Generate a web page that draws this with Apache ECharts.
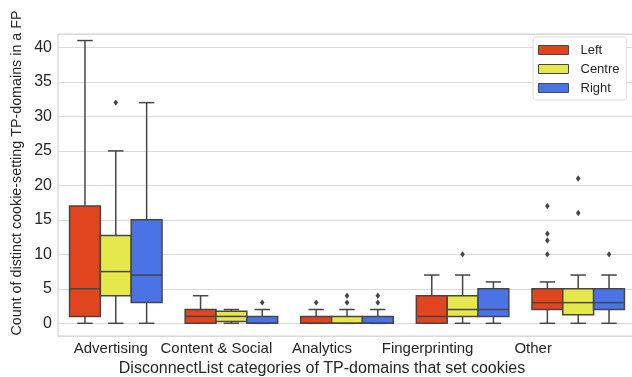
<!DOCTYPE html>
<html>
<head>
<meta charset="utf-8">
<script src="https://cdn.jsdelivr.net/npm/echarts@6/dist/echarts.min.js"></script>
<style>
  html, body { margin: 0; padding: 0; background: #ffffff; }
  #chart { width: 632px; height: 377px; }
</style>
</head>
<body>
<div id="chart"></div>
<script>
// Categories of third-party domains
const categories = ['Advertising', 'Content & Social', 'Analytics', 'Fingerprinting', 'Other'];
const hueNames = ['Left', 'Centre', 'Right'];
const hueColors = ['#e0451f', '#e6e74b', '#4a73e6'];

// Box statistics per category: [lower whisker, Q1, median, Q3, upper whisker]
const leftBoxes = [
  [0, 1, 5, 17, 41],
  [0, 0, 1, 2, 4],
  [0, 0, 0, 1, 2],
  [0, 0, 1, 4, 7],
  [0, 2, 3, 5, 6]
];
const centreBoxes = [
  [0, 4, 7.5, 12.75, 25],
  [0, 0.25, 1, 1.75, 2],
  [0, 0, 0, 1, 2],
  [0, 1, 2, 4, 7],
  [0, 1.25, 3, 5, 7]
];
const rightBoxes = [
  [0, 3, 7, 15, 32],
  [0, 0, 0, 1, 2],
  [0, 0, 0, 1, 2],
  [0, 1, 2, 5, 6],
  [0, 2, 3, 5, 7]
];

// Outlier values per category
const leftOutliers = [[], [], [3], [], [10, 12, 13, 17]];
const centreOutliers = [[32], [], [3, 4], [10], [16, 21]];
const rightOutliers = [[], [3], [3, 4], [], [10]];

// Axis settings
const yMin = -1.84;
const yMax = 41.95;

const edgeColor = '#464646';
const textColor = '#262626';
const fontFamily = '"Liberation Sans", Arial, sans-serif';

function boxData(boxes) {
  return boxes.map((b, i) => [i].concat(b));
}
function outlierData(outs) {
  const out = [];
  outs.forEach((vals, i) => vals.forEach(v => out.push([i, v])));
  return out;
}

function boxRenderer(hueIdx, fill) {
  return function (params, api) {
    const cat = api.value(0);
    const band = api.size([1, 0])[0];
    const w = band * 0.8 / 3;
    const cx = api.coord([cat, 0])[0] + (hueIdx - 1) * w;
    const py = k => api.coord([cat, api.value(k)])[1];
    const yLo = py(1), yQ1 = py(2), yMed = py(3), yQ3 = py(4), yHi = py(5);
    const line = { stroke: edgeColor, lineWidth: 1.5 };
    const cap = w / 4;
    return {
      type: 'group',
      children: [
        { type: 'line', shape: { x1: cx, y1: yQ3, x2: cx, y2: yHi }, style: line },
        { type: 'line', shape: { x1: cx, y1: yQ1, x2: cx, y2: yLo }, style: line },
        { type: 'line', shape: { x1: cx - cap, y1: yHi, x2: cx + cap, y2: yHi }, style: line },
        { type: 'line', shape: { x1: cx - cap, y1: yLo, x2: cx + cap, y2: yLo }, style: line },
        { type: 'rect', shape: { x: cx - w / 2, y: yQ3, width: w, height: yQ1 - yQ3 },
          style: { fill: fill, stroke: edgeColor, lineWidth: 1.5 } },
        { type: 'line', shape: { x1: cx - w / 2, y1: yMed, x2: cx + w / 2, y2: yMed }, style: line }
      ]
    };
  };
}

function outlierRenderer(hueIdx) {
  return function (params, api) {
    const cat = api.value(0);
    const band = api.size([1, 0])[0];
    const w = band * 0.8 / 3;
    const p = api.coord([cat, api.value(1)]);
    const cx = p[0] + (hueIdx - 1) * w;
    const cy = p[1];
    return {
      type: 'polygon',
      shape: { points: [[cx, cy - 3.2], [cx + 2.3, cy], [cx, cy + 3.2], [cx - 2.3, cy]] },
      style: { fill: edgeColor }
    };
  };
}

const boxSets = [leftBoxes, centreBoxes, rightBoxes];
const outlierSets = [leftOutliers, centreOutliers, rightOutliers];

const series = [];
hueNames.forEach((name, h) => {
  series.push({
    name: name,
    type: 'custom',
    xAxisIndex: 0,
    yAxisIndex: 0,
    renderItem: boxRenderer(h, hueColors[h]),
    itemStyle: { color: hueColors[h] },
    encode: { x: 0, y: [1, 2, 3, 4, 5] },
    data: boxData(boxSets[h]),
    clip: false,
    z: 3
  });
});
hueNames.forEach((name, h) => {
  series.push({
    name: name + ' outliers',
    type: 'custom',
    xAxisIndex: 0,
    yAxisIndex: 0,
    renderItem: outlierRenderer(h),
    itemStyle: { color: edgeColor },
    encode: { x: 0, y: 1 },
    data: outlierData(outlierSets[h]),
    clip: false,
    z: 4
  });
});

const chart = echarts.init(document.getElementById('chart'), null, { renderer: 'canvas' });
chart.setOption({
  animation: false,
  backgroundColor: '#ffffff',
  textStyle: { fontFamily: fontFamily },
  grid: [
    { left: 58, width: 578, top: 34, bottom: 41, show: true, borderColor: '#d4d4d4', borderWidth: 1.2,
      containLabel: false, outerBoundsMode: 'none' },
    { left: 58, width: 528, top: 10, bottom: 41, containLabel: false, outerBoundsMode: 'none' }
  ],
  legend: {
    data: hueNames,
    orient: 'vertical',
    left: 533,
    top: 37,
    icon: 'rect',
    itemWidth: 30,
    itemHeight: 9,
    itemGap: 5,
    padding: [6, 7, 5, 5],
    backgroundColor: '#ffffff',
    borderColor: '#dcdcdc',
    borderWidth: 1,
    borderRadius: 3,
    itemStyle: { borderColor: edgeColor, borderWidth: 1 },
    textStyle: { fontSize: 13, color: textColor, fontFamily: fontFamily, lineHeight: 14, padding: [0, 0, 0, 7] }
  },
  xAxis: [
    {
      type: 'category',
      gridIndex: 0,
      data: categories,
      axisLine: { show: false },
      axisTick: { show: false },
      axisLabel: { show: false },
      splitLine: { show: false }
    },
    {
      type: 'category',
      gridIndex: 1,
      data: categories,
      axisLine: { show: false },
      axisTick: { show: false },
      axisLabel: { fontSize: 15, color: textColor, margin: 5, fontFamily: fontFamily, interval: 0 },
      name: 'DisconnectList categories of TP-domains that set cookies',
      nameLocation: 'middle',
      nameGap: 22,
      nameTextStyle: { fontSize: 16, color: textColor, fontFamily: fontFamily }
    }
  ],
  yAxis: [
    {
      type: 'value',
      gridIndex: 0,
      min: yMin,
      max: yMax,
      splitNumber: 8,
      axisLine: { show: false },
      axisTick: { show: false },
      axisLabel: { fontSize: 16, color: textColor, margin: 6, fontFamily: fontFamily, showMinLabel: false, showMaxLabel: false },
      splitLine: { lineStyle: { color: '#d9d9d9', width: 1.2 } }
    },
    {
      type: 'value',
      gridIndex: 1,
      axisLine: { show: false },
      axisTick: { show: false },
      axisLabel: { show: false },
      splitLine: { show: false },
      name: 'Count of distinct cookie-setting TP-domains in a FP',
      nameLocation: 'middle',
      nameGap: 34,
      nameTextStyle: { fontSize: 14.3, color: textColor, fontFamily: fontFamily }
    }
  ],
  series: series
});
</script>
</body>
</html>
